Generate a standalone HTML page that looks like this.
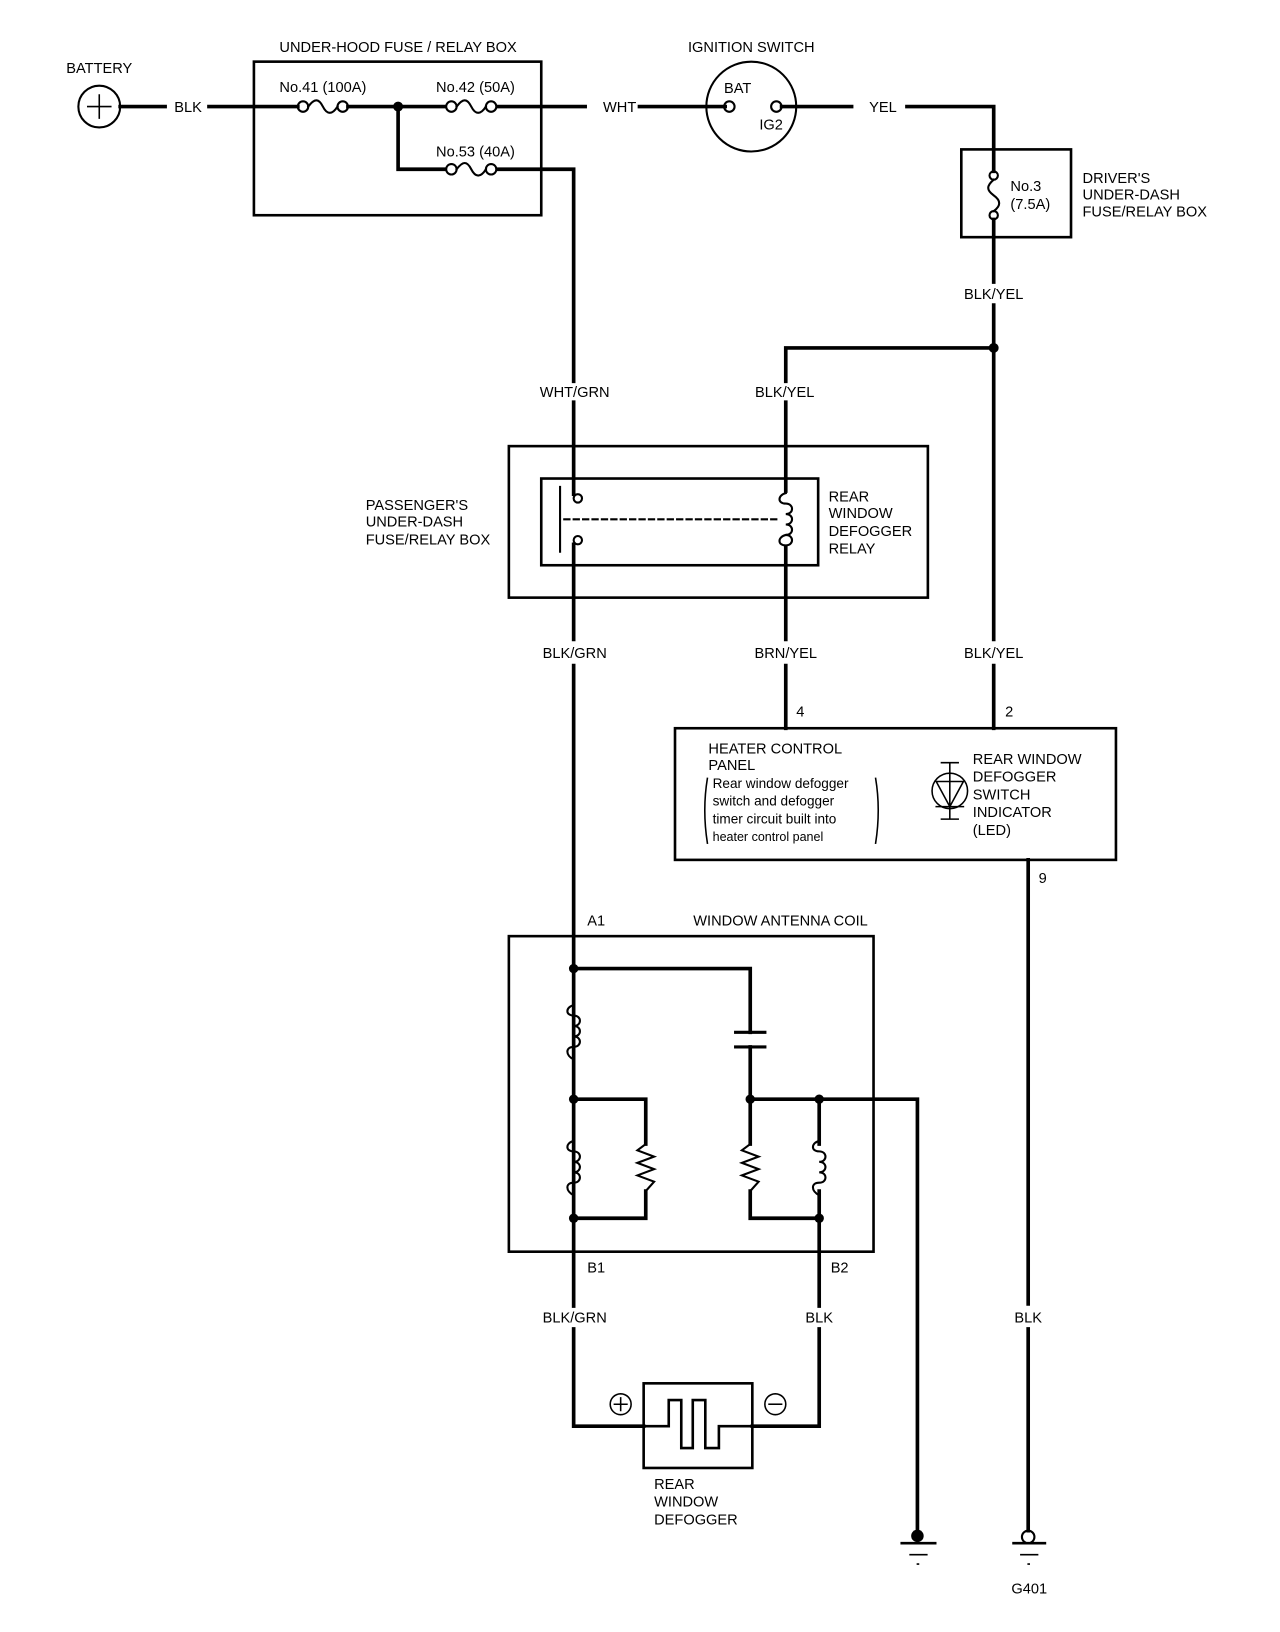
<!DOCTYPE html>
<html><head><meta charset="utf-8"><style>
html,body{margin:0;padding:0;background:#fff;width:1280px;height:1632px;overflow:hidden}
svg{display:block}
text{font-family:"Liberation Sans",sans-serif;font-size:14px;fill:#000}
</style></head><body>
<svg width="1280" height="1632" viewBox="0 0 1225 1562" preserveAspectRatio="none" xmlns="http://www.w3.org/2000/svg">
<g fill="none" stroke="#000" stroke-width="3.5" stroke-linecap="square">
<circle cx="95" cy="102" r="20" stroke-width="2"/>
<path d="M84 102h22M95 91v22" stroke-width="1.5"/>
<path d="M115 102H158M200 102H285M333 102H426M476 102H560M612 102H694"/>
<rect x="243" y="59" width="275" height="147" stroke-width="2.5"/>
<g stroke-width="2">
<circle cx="290" cy="102" r="5"/><circle cx="328" cy="102" r="5"/>
<path d="M295 102c6-8 10-8 14 0s9 8 14 0"/>
<circle cx="432" cy="102" r="5"/><circle cx="470" cy="102" r="5"/>
<path d="M437 102c6-8 10-8 14 0s9 8 14 0"/>
<circle cx="432" cy="162" r="5"/><circle cx="470" cy="162" r="5"/>
<path d="M437 162c6-8 10-8 14 0s9 8 14 0"/>
</g>
<path d="M381 102V162H426M476 162H549V365M549 385V473"/>
<circle cx="381" cy="102" r="3" fill="#000"/>
<circle cx="719" cy="102" r="43" stroke-width="2"/>
<circle cx="698" cy="102" r="5" stroke-width="2"/>
<circle cx="743" cy="102" r="5" stroke-width="2"/>
<path d="M748 102H815M868 102H951V164"/>
<rect x="920" y="143" width="105" height="84" stroke-width="2.5"/>
<g stroke-width="2"><circle cx="951" cy="168" r="4"/><circle cx="951" cy="206" r="4"/>
<path d="M951 172c-7 6-7 10 0 15s7 10 0 15"/></g>
<path d="M951 210V270M951 292V612M951 637V697"/>
<path d="M951 333H752V365M752 385V470"/>
<circle cx="951" cy="333" r="3" fill="#000"/>
<rect x="487" y="427" width="401" height="145" stroke-width="2.5"/>
<rect x="518" y="458" width="265" height="83" stroke-width="2.5"/>
<g stroke-width="2">
<circle cx="553" cy="477" r="4"/><circle cx="553" cy="517" r="4"/>
<path d="M536 466V528"/>
<path d="M540 497H745" stroke-dasharray="5 4"/>
<path d="M752 472c-8 2-8 10 0 10 8 0 8 10 0 10 8 0 8 10 0 10 8 0 8 10 0 10 8 0 8 10 0 10 -8 0-8 -8 0 -10"/>
</g>
<path d="M549 521V612M549 637V1250M549 1272V1365H616"/>
<path d="M752 524V612M752 637V697"/>
<rect x="646" y="697" width="422" height="126" stroke-width="2.5"/>
<g stroke-width="1.5">
<circle cx="909" cy="757" r="17"/>
<path d="M896 748H922L909 772Z M896 772H922 M909 730V784 M901 730H917 M901 784H917"/>
<path d="M677 745q-5 30 0 62M838 745q5 30 0 62"/>
</g>
<path d="M984 823V1248M984 1272V1465"/>
<rect x="487" y="896" width="349" height="302" stroke-width="2.5"/>
<path d="M549 927H718V988M718 1002V1052H878V1465"/>
<path d="M704 988H732M704 1002H732" stroke-width="3"/>
<path d="M549 1052H618V1095M618 1140V1166H549"/>
<path d="M718 1052V1095M718 1140V1166H784"/>
<path d="M784 1052V1095M784 1140V1250M784 1272V1365H720"/>
<g stroke-width="2">
<path d="M549 962c-8 2-8 10 0 10 8 0 8 10 0 10 8 0 8 10 0 10 8 0 8 10 0 10 -8 0-8 8 0 12"/>
<path d="M549 1092c-8 2-8 10 0 10 8 0 8 10 0 10 8 0 8 10 0 10 8 0 8 10 0 10 -8 0-8 8 0 12"/>
<path d="M784 1092c-8 2-8 10 0 10 8 0 8 10 0 10 8 0 8 10 0 10 8 0 8 10 0 10 -8 0-8 8 0 12"/>
<path d="M618 1095L610 1101L626 1107L610 1113L626 1119L610 1125L626 1131L618 1140"/>
<path d="M718 1095L710 1101L726 1107L710 1113L726 1119L710 1125L726 1131L718 1140"/>
</g>
<g fill="#000" stroke="none">
<circle cx="549" cy="927" r="4.5"/><circle cx="549" cy="1052" r="4.5"/><circle cx="549" cy="1166" r="4.5"/>
<circle cx="718" cy="1052" r="4.5"/><circle cx="784" cy="1052" r="4.5"/><circle cx="784" cy="1166" r="4.5"/>
<circle cx="878" cy="1470" r="6"/>
</g>
<rect x="616" y="1324" width="104" height="81" stroke-width="2.5"/>
<path d="M616 1365H640V1340H652V1386H663V1340H675V1386H688V1365H720" stroke-width="2.5"/>
<g stroke-width="1.5">
<circle cx="594" cy="1344" r="10"/><path d="M588 1344h12M594 1338v12"/>
<circle cx="742" cy="1344" r="10"/><path d="M736 1344h12"/>
</g>
<g stroke-width="2.5"><path d="M863 1477H895M970 1477H1000"/></g>
<g stroke-width="1.5"><path d="M871 1488H887M977 1488H993M878 1497h1M984 1497h1"/></g>
<circle cx="984" cy="1471" r="6" stroke-width="2"/>
</g>
<g>
<text x="95" y="70" text-anchor="middle">BATTERY</text>
<text x="180" y="107" text-anchor="middle">BLK</text>
<text x="381" y="50" text-anchor="middle">UNDER-HOOD FUSE / RELAY BOX</text>
<text x="309" y="88" text-anchor="middle">No.41 (100A)</text>
<text x="455" y="88" text-anchor="middle">No.42 (50A)</text>
<text x="455" y="150" text-anchor="middle">No.53 (40A)</text>
<text x="593" y="107" text-anchor="middle">WHT</text>
<text x="719" y="50" text-anchor="middle">IGNITION SWITCH</text>
<text x="706" y="89" text-anchor="middle">BAT</text>
<text x="738" y="124" text-anchor="middle">IG2</text>
<text x="845" y="107" text-anchor="middle">YEL</text>
<text x="967" y="183">No.3</text>
<text x="967" y="200">(7.5A)</text>
<text x="1036" y="175">DRIVER'S</text>
<text x="1036" y="191">UNDER-DASH</text>
<text x="1036" y="207">FUSE/RELAY BOX</text>
<text x="951" y="286" text-anchor="middle">BLK/YEL</text>
<text x="550" y="380" text-anchor="middle">WHT/GRN</text>
<text x="751" y="380" text-anchor="middle">BLK/YEL</text>
<text x="350" y="488">PASSENGER'S</text>
<text x="350" y="504">UNDER-DASH</text>
<text x="350" y="521">FUSE/RELAY BOX</text>
<text x="793" y="480">REAR</text>
<text x="793" y="496">WINDOW</text>
<text x="793" y="513">DEFOGGER</text>
<text x="793" y="530">RELAY</text>
<text x="550" y="630" text-anchor="middle">BLK/GRN</text>
<text x="752" y="630" text-anchor="middle">BRN/YEL</text>
<text x="951" y="630" text-anchor="middle">BLK/YEL</text>
<text x="762" y="686">4</text>
<text x="962" y="686">2</text>
<text x="678" y="721">HEATER  CONTROL</text>
<text x="678" y="737">PANEL</text>
<text x="682" y="754" style="font-size:13px">Rear window defogger</text>
<text x="682" y="771" style="font-size:13px">switch and defogger</text>
<text x="682" y="788" style="font-size:13px">timer circuit built into</text>
<text x="682" y="805" style="font-size:12px">heater  control panel</text>
<text x="931" y="731">REAR WINDOW</text>
<text x="931" y="748">DEFOGGER</text>
<text x="931" y="765">SWITCH</text>
<text x="931" y="782">INDICATOR</text>
<text x="931" y="799">(LED)</text>
<text x="994" y="845">9</text>
<text x="562" y="886">A1</text>
<text x="747" y="886" text-anchor="middle">WINDOW ANTENNA COIL</text>
<text x="562" y="1218">B1</text>
<text x="795" y="1218">B2</text>
<text x="550" y="1266" text-anchor="middle">BLK/GRN</text>
<text x="784" y="1266" text-anchor="middle">BLK</text>
<text x="984" y="1266" text-anchor="middle">BLK</text>
<text x="626" y="1425">REAR</text>
<text x="626" y="1442">WINDOW</text>
<text x="626" y="1459">DEFOGGER</text>
<text x="985" y="1525" text-anchor="middle">G401</text>
</g>
</svg>
</body></html>
